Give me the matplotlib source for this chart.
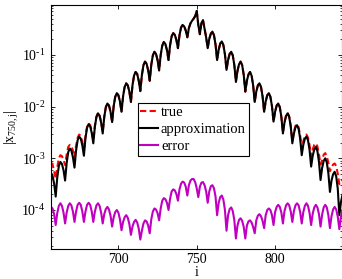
import numpy as np
import matplotlib
matplotlib.use("Agg")
import matplotlib.pyplot as plt

plt.rcParams['font.family'] = ['Liberation Serif', 'DejaVu Serif']
plt.rcParams['mathtext.fontset'] = 'custom'
plt.rcParams['mathtext.rm'] = 'Liberation Serif'
plt.rcParams['mathtext.it'] = 'Liberation Serif:italic'

# row index j of the matrix
j_start, j_stop = 657, 843

# log10 of |x_{750,j}|, one row = 6 entries
approx_log10 = [
    -3.28, -3.34, -3.49, -3.74, -3.37, -3.15,
    -3.07, -3.11, -3.23, -3.43, -3.09, -2.88,
    -2.81, -2.85, -2.98, -3.18, -2.85, -2.65,
    -2.58, -2.62, -2.75, -2.95, -2.61, -2.41,
    -2.34, -2.38, -2.51, -2.71, -2.39, -2.20,
    -2.13, -2.18, -2.31, -2.52, -2.20, -2.01,
    -1.94, -1.98, -2.10, -2.30, -1.99, -1.81,
    -1.74, -1.78, -1.90, -2.10, -1.80, -1.62,
    -1.55, -1.59, -1.71, -1.91, -1.59, -1.40,
    -1.33, -1.37, -1.50, -1.70, -1.39, -1.20,
    -1.13, -1.17, -1.30, -1.50, -1.19, -1.01,
    -0.94, -0.98, -1.10, -1.30, -1.00, -0.82,
    -0.75, -0.79, -0.91, -1.10, -0.81, -0.64,
    -0.58, -0.61, -0.71, -0.87, -0.62, -0.47,
    -0.42, -0.45, -0.53, -0.66, -0.48, -0.39,
    -0.34, -0.30, -0.25, -0.15, -0.42, -0.60,
    -0.38, -0.33, -0.50, -0.66, -0.87, -0.69,
    -0.59, -0.55, -0.62, -0.80, -1.10, -0.90,
    -0.78, -0.74, -0.81, -0.99, -1.29, -1.10,
    -0.98, -0.94, -1.01, -1.20, -1.52, -1.31,
    -1.18, -1.13, -1.20, -1.39, -1.71, -1.50,
    -1.38, -1.33, -1.40, -1.59, -1.91, -1.71,
    -1.59, -1.55, -1.62, -1.80, -2.10, -1.90,
    -1.78, -1.74, -1.81, -1.99, -2.29, -2.10,
    -1.98, -1.94, -2.01, -2.20, -2.52, -2.31,
    -2.18, -2.13, -2.20, -2.39, -2.71, -2.52,
    -2.40, -2.36, -2.43, -2.62, -2.94, -2.74,
    -2.62, -2.58, -2.65, -2.84, -3.16, -2.95,
    -2.83, -2.78, -2.86, -3.07, -3.42, -3.19,
    -3.05, -3.00, -3.08, -3.29, -3.65, -3.43,
    -3.31, -3.26, -3.35, -3.59, -4.10, -3.85,
    -3.71,
]

true_log10 = [
    -3.08, -3.12, -3.25, -3.39, -3.18, -3.00,
    -2.94, -2.96, -3.03, -3.13, -2.93, -2.78,
    -2.74, -2.76, -2.85, -2.98, -2.76, -2.60,
    -2.54, -2.57, -2.68, -2.83, -2.57, -2.39,
    -2.32, -2.36, -2.47, -2.65, -2.37, -2.19,
    -2.12, -2.17, -2.29, -2.49, -2.19, -2.01,
    -1.94, -1.98, -2.10, -2.30, -1.99, -1.81,
    -1.74, -1.78, -1.90, -2.10, -1.80, -1.62,
    -1.55, -1.59, -1.71, -1.91, -1.59, -1.40,
    -1.33, -1.37, -1.50, -1.70, -1.39, -1.20,
    -1.13, -1.17, -1.30, -1.50, -1.19, -1.01,
    -0.94, -0.98, -1.10, -1.30, -1.00, -0.82,
    -0.75, -0.79, -0.91, -1.10, -0.81, -0.64,
    -0.58, -0.61, -0.71, -0.87, -0.62, -0.47,
    -0.42, -0.45, -0.53, -0.66, -0.48, -0.39,
    -0.34, -0.30, -0.25, -0.15, -0.42, -0.60,
    -0.38, -0.33, -0.50, -0.66, -0.87, -0.69,
    -0.59, -0.55, -0.62, -0.80, -1.10, -0.90,
    -0.78, -0.74, -0.81, -0.99, -1.29, -1.10,
    -0.98, -0.94, -1.01, -1.20, -1.52, -1.31,
    -1.18, -1.13, -1.20, -1.39, -1.71, -1.50,
    -1.38, -1.33, -1.40, -1.59, -1.91, -1.71,
    -1.59, -1.55, -1.62, -1.80, -2.10, -1.90,
    -1.78, -1.74, -1.81, -1.99, -2.29, -2.10,
    -1.98, -1.94, -2.01, -2.20, -2.50, -2.30,
    -2.17, -2.12, -2.19, -2.37, -2.66, -2.49,
    -2.37, -2.34, -2.40, -2.56, -2.82, -2.67,
    -2.57, -2.54, -2.60, -2.75, -2.96, -2.83,
    -2.74, -2.71, -2.77, -2.92, -3.12, -3.03,
    -2.93, -2.90, -2.96, -3.09, -3.25, -3.18,
    -3.12, -3.10, -3.15, -3.30, -3.50, -3.45,
    -3.42,
]

error_log10 = [
    -3.94, -3.97, -4.08, -4.29, -4.06, -3.92,
    -3.87, -3.92, -4.05, -4.26, -4.05, -3.92,
    -3.87, -3.91, -4.03, -4.23, -4.03, -3.90,
    -3.86, -3.90, -4.03, -4.23, -4.03, -3.90,
    -3.86, -3.90, -4.03, -4.23, -4.03, -3.91,
    -3.87, -3.92, -4.05, -4.26, -4.08, -3.98,
    -3.94, -3.99, -4.11, -4.32, -4.14, -4.04,
    -4.00, -4.05, -4.18, -4.39, -4.23, -4.14,
    -4.10, -4.15, -4.27, -4.48, -4.32, -4.23,
    -4.19, -4.24, -4.36, -4.57, -4.40, -4.26,
    -4.20, -4.22, -4.30, -4.45, -4.18, -4.03,
    -3.97, -3.99, -4.06, -4.20, -3.97, -3.82,
    -3.77, -3.79, -3.86, -4.00, -3.78, -3.64,
    -3.60, -3.62, -3.69, -3.82, -3.60, -3.49,
    -3.45, -3.47, -3.55, -3.72, -3.52, -3.43,
    -3.40, -3.40, -3.46, -3.58, -3.75, -3.55,
    -3.47, -3.46, -3.52, -3.64, -3.86, -3.64,
    -3.54, -3.52, -3.58, -3.74, -4.10, -3.86,
    -3.75, -3.72, -3.80, -4.00, -4.40, -4.10,
    -3.98, -3.95, -4.02, -4.20, -4.55, -4.30,
    -4.19, -4.16, -4.21, -4.33, -4.55, -4.30,
    -4.22, -4.20, -4.24, -4.33, -4.45, -4.20,
    -4.11, -4.08, -4.12, -4.21, -4.35, -4.10,
    -4.00, -3.97, -4.00, -4.10, -4.29, -4.04,
    -3.94, -3.90, -3.94, -4.05, -4.26, -4.02,
    -3.91, -3.87, -3.91, -4.03, -4.23, -4.02,
    -3.91, -3.87, -3.91, -4.04, -4.26, -4.04,
    -3.92, -3.87, -3.92, -4.06, -4.29, -4.07,
    -3.95, -3.90, -3.95, -4.08, -4.32, -4.09,
    -3.95, -3.90, -3.95, -4.10, -4.35, -4.12,
    -3.99, -3.94, -3.99, -4.13, -4.37, -4.14,
    -4.00,
]

x_ticks = [700, 750, 800]
y_tick_exps = [-4, -3, -2, -1]

j = np.arange(j_start, j_stop + 1)
x_true = 10.0 ** np.array(true_log10)
x_approx = 10.0 ** np.array(approx_log10)
x_err = 10.0 ** np.array(error_log10)

fig = plt.figure(figsize=(3.42, 2.79), dpi=100)
ax = fig.add_axes([0.1491, 0.1075, 0.8523, 0.8746])

ax.semilogy(j, x_true, color='#ff0000', linestyle=(0, (3.0, 1.6)), lw=1.5, label='true')
ax.semilogy(j, x_approx, color='black', lw=1.5, label='approximation')
ax.semilogy(j, x_err, color='#c000c0', lw=1.5, label='error')

ax.set_xlim(j_start, j_stop)
ax.set_ylim(10 ** -4.754, 10 ** -0.035)
ax.set_xticks(x_ticks)
ax.set_yticks([10.0 ** e for e in y_tick_exps])
# short hyphen in the exponent like the original
ax.set_yticklabels([r'$10^{\text{-}%d}$' % -e for e in y_tick_exps])

ax.tick_params(which='both', direction='in', top=True, right=True, labelsize=10, pad=4)
ax.tick_params(axis='x', pad=3)
ax.tick_params(which='major', length=3, width=0.6)
ax.tick_params(which='minor', length=1.6, width=0.5)
for s in ax.spines.values():
    s.set_linewidth(0.8)

ax.set_xlabel('i', fontsize=10)
ax.xaxis.set_label_coords(0.5, -0.07)
ax.set_ylabel(r'$|\mathrm{x}_{750,\mathrm{j}}|$', fontsize=10)
ax.yaxis.set_label_coords(-0.102, 0.5)

leg = ax.legend(loc='upper left', bbox_to_anchor=(0.297, 0.598), fontsize=10.5,
                frameon=True, fancybox=False, framealpha=1, edgecolor='black',
                handlelength=1.2, handletextpad=0.2, borderpad=0.2,
                labelspacing=0.25, borderaxespad=0)
leg.get_frame().set_linewidth(0.8)

fig.savefig('out.png', dpi=100)
